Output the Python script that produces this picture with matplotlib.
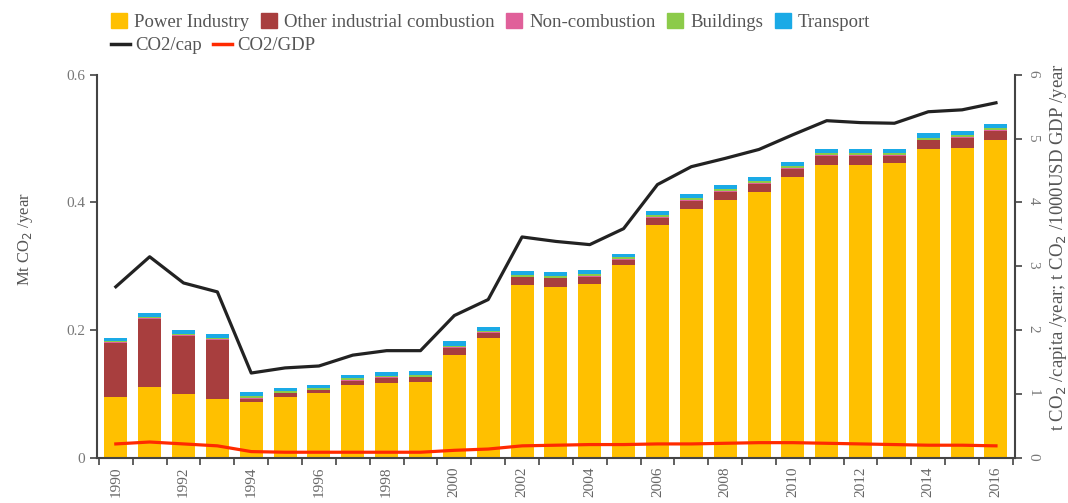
import matplotlib
matplotlib.use("Agg")
import matplotlib.pyplot as plt
from matplotlib.patches import Patch
from matplotlib.lines import Line2D

plt.rcParams['font.family'] = ['Liberation Serif', 'DejaVu Serif']

# valores
anos = list(range(1990, 2017))
power = [0.096, 0.111, 0.100, 0.092, 0.088, 0.096, 0.102, 0.114, 0.118, 0.119,
         0.161, 0.188, 0.271, 0.268, 0.273, 0.302, 0.364, 0.390, 0.404, 0.417,
         0.440, 0.459, 0.459, 0.461, 0.483, 0.486, 0.497]
other = [0.084, 0.107, 0.091, 0.093, 0.005, 0.005, 0.004, 0.007, 0.007, 0.007,
         0.011, 0.008, 0.012, 0.013, 0.011, 0.008, 0.012, 0.013, 0.013, 0.012,
         0.013, 0.014, 0.014, 0.012, 0.014, 0.015, 0.015]
noncomb = [0.001, 0.001, 0.001, 0.001, 0.001, 0.001, 0.001, 0.001, 0.001, 0.001,
           0.001, 0.001, 0.001, 0.001, 0.001, 0.001, 0.001, 0.001, 0.001, 0.001,
           0.001, 0.001, 0.001, 0.001, 0.001, 0.001, 0.001]
buildings = [0.002, 0.002, 0.002, 0.002, 0.003, 0.003, 0.003, 0.003, 0.003, 0.003,
             0.003, 0.002, 0.003, 0.003, 0.003, 0.003, 0.003, 0.003, 0.003, 0.003,
             0.003, 0.003, 0.003, 0.003, 0.003, 0.003, 0.003]
transport = [0.005, 0.006, 0.006, 0.006, 0.006, 0.005, 0.004, 0.005, 0.006, 0.006,
             0.007, 0.006, 0.006, 0.006, 0.006, 0.006, 0.006, 0.007, 0.007, 0.007,
             0.007, 0.007, 0.007, 0.007, 0.007, 0.007, 0.007]
co2_cap = [2.68, 3.15, 2.74, 2.60, 1.33, 1.41, 1.44, 1.61, 1.68, 1.68,
           2.23, 2.48, 3.46, 3.39, 3.34, 3.59, 4.28, 4.56, 4.69, 4.83,
           5.06, 5.28, 5.25, 5.24, 5.42, 5.45, 5.56]
co2_gdp = [0.22, 0.25, 0.22, 0.19, 0.10, 0.09, 0.09, 0.09, 0.09, 0.09,
           0.12, 0.14, 0.19, 0.20, 0.21, 0.21, 0.22, 0.22, 0.23, 0.24,
           0.24, 0.23, 0.22, 0.21, 0.20, 0.20, 0.19]

setores = ['Power Industry', 'Other industrial combustion', 'Non-combustion', 'Buildings', 'Transport']
cores = ['#FFC000', '#A83E3E', '#E0609A', '#8CCB4A', '#1AAAE6']
series = [power, other, noncomb, buildings, transport]

fig = plt.figure(figsize=(10.68, 5.03), dpi=100)
ax = fig.add_axes([0.091, 0.0895, 0.859, 0.762])

x = list(range(len(anos)))
base = [0.0] * len(anos)
for vals, cor in zip(series, cores):
    ax.bar(x, vals, bottom=base, width=0.68, color=cor, zorder=2)
    base = [b + v for b, v in zip(base, vals)]

ax.set_xlim(-0.55, len(anos) - 0.45)
ax.set_ylim(0, 0.6)
ax.set_yticks([0, 0.2, 0.4, 0.6])
ax.set_yticklabels(['0', '0.2', '0.4', '0.6'])
ax.set_ylabel('Mt CO$_2$ /year', fontsize=12, color='#555555')
ax.yaxis.set_label_coords(-0.068, 0.57)

ax.set_xticks(x[::2])
ax.set_xticklabels([str(a) for a in anos[::2]], rotation=90)
ax.set_xticks([i - 0.5 for i in range(len(anos) + 1)], minor=True)
ax.tick_params(axis='x', which='major', length=0, labelsize=11, labelcolor='#666666', pad=6)
ax.tick_params(axis='x', which='minor', length=5, width=1.2, color='#444444')
ax.tick_params(axis='y', length=5, width=1.2, color='#444444', labelsize=11, labelcolor='#777777')
ax.spines['top'].set_visible(False)
ax.spines['right'].set_visible(False)
for s in ['left', 'bottom']:
    ax.spines[s].set_color('#444444')
    ax.spines[s].set_linewidth(1.5)

ax2 = ax.twinx()
ax2.plot(x, co2_cap, color='#222222', lw=2.3, zorder=3)
ax2.plot(x, co2_gdp, color='#FF2A00', lw=2.3, zorder=3)
ax2.set_ylim(0, 6)
ax2.set_yticks(range(0, 7))
ax2.tick_params(axis='y', length=5, width=1.2, color='#444444', labelsize=11,
                labelcolor='#777777', labelrotation=-90)
ax2.spines['top'].set_visible(False)
ax2.spines['left'].set_visible(False)
ax2.spines['bottom'].set_visible(False)
ax2.spines['right'].set_color('#444444')
ax2.spines['right'].set_linewidth(1.5)
ax2.set_ylabel('t CO$_2$ /capita /year; t CO$_2$ /1000USD GDP /year', fontsize=13.5,
               color='#555555')
ax2.yaxis.set_label_coords(1.036, 0.55)

# legendas
h1 = [Patch(color=c, label=l) for c, l in zip(cores, setores)]
fig.legend(handles=h1, loc='upper left', bbox_to_anchor=(0.088, 1.007), ncol=5,
           frameon=False, fontsize=13.5, handlelength=0.85, handleheight=0.85,
           handletextpad=0.4, columnspacing=0.6, labelcolor='#555555')
h2 = [Line2D([], [], color='#222222', lw=2.5, label='CO2/cap'),
      Line2D([], [], color='#FF2A00', lw=2.5, label='CO2/GDP')]
fig.legend(handles=h2, loc='upper left', bbox_to_anchor=(0.088, 0.960), ncol=2,
           frameon=False, fontsize=13.5, handlelength=1.0, handletextpad=0.3,
           columnspacing=0.6, labelcolor='#555555')

fig.savefig('out.png', dpi=100)
